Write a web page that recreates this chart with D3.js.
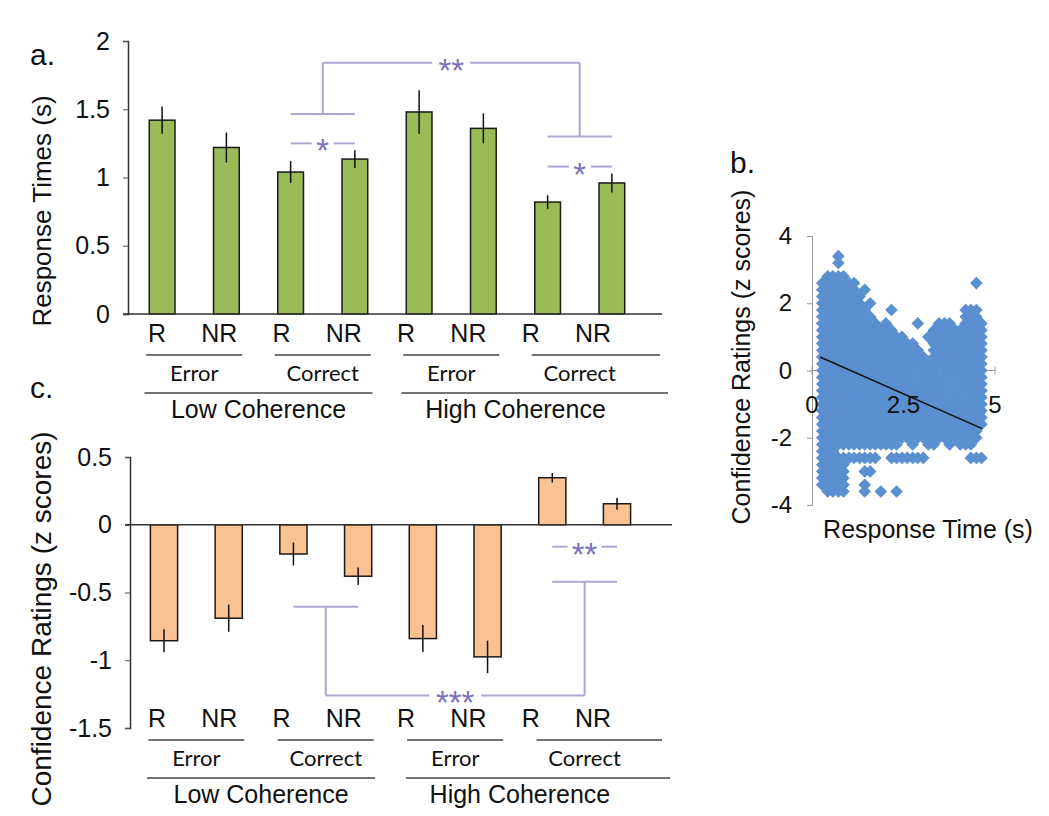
<!DOCTYPE html>
<html>
<head>
<meta charset="utf-8">
<script src="https://cdn.jsdelivr.net/npm/d3@7"></script>
<style>
  body { margin: 0; background: #fff; }
  text { font-family: "Liberation Sans", Arial, sans-serif; fill: #111; }
  .small { font-family: Lato, "Open Sans", sans-serif; }
</style>
</head>
<body>
<script>
// ---- data ----
const conditions = ["R", "NR", "R", "NR", "R", "NR", "R", "NR"];
const outcomeGroups = ["Error", "Correct", "Error", "Correct"];
const coherenceGroups = ["Low Coherence", "High Coherence"];

// a. response times (s)
const rtMeans = [1.42, 1.22, 1.04, 1.135, 1.48, 1.36, 0.82, 0.96];
const rtErrors = [0.10, 0.11, 0.08, 0.065, 0.16, 0.11, 0.05, 0.07];
const rtTicks = [0, 0.5, 1, 1.5, 2];

// c. confidence ratings (z scores)
const confMeans = [-0.856, -0.69, -0.216, -0.38, -0.84, -0.975, 0.347, 0.155];
const confErrors = [0.085, 0.10, 0.085, 0.065, 0.10, 0.12, 0.035, 0.045];
const confTicks = [-1.5, -1, -0.5, 0, 0.5];

// significance marks (pair index = which R/NR pair, y in data units)
const rtPairSig = [{ pair: 1, y: 1.25, mark: "*" }, { pair: 3, y: 1.08, mark: "*" }];
const rtBracket = { left: 1, right: 3, leftY: 1.465, rightY: 1.30, endY: 1.84, mark: "**" };
const confPairSig = [{ pair: 3, y: -0.162, mark: "**" }];
const confBracket = { left: 1, right: 3, leftY: -0.605, rightY: -0.42, endY: -1.26, mark: "***" };

// b. scatter: response time (s) vs confidence (z) read as a grid of the marker cloud
const scatterXTicks = [0, 2.5, 5];
const scatterYTicks = [-4, -2, 0, 2, 4];
const scatterColX = [0.28, 0.43, 0.57, 0.72, 0.86, 1.01, 1.15, 1.30, 1.44, 1.59, 1.73,
  1.88, 2.02, 2.17, 2.31, 2.46, 2.60, 2.75, 2.89, 3.04, 3.18, 3.33, 3.47, 3.62, 3.76,
  3.91, 4.05, 4.20, 4.34, 4.49, 4.63];
const scatterRowY = [3.4, 3.2, 3.0, 2.8, 2.6, 2.4, 2.2, 2.0, 1.8, 1.6, 1.4, 1.2, 1.0,
  0.8, 0.6, 0.4, 0.2, 0.0, -0.2, -0.4, -0.6, -0.8, -1.0, -1.2, -1.4, -1.6, -1.8, -2.0,
  -2.2, -2.4, -2.6, -2.8, -3.0, -3.2, -3.4, -3.6];
const scatterRows = [
  "...#...........................",
  "...#...........................",
  "...............................",
  ".####..........................",
  "#######......................#.",
  "#######.#......................",
  "########.......................",
  "########.#.....................",
  "#########....#.............###.",
  "##########.................###.",
  "###########.#.....#...###..####",
  "##############.......##########",
  "################....###########",
  "##################...##########",
  "###################..##########",
  "####################.##########",
  "###############################",
  "######################.########",
  "##################.############",
  "########################.#.####",
  "#########################.#####",
  "########################.#.####",
  "###############################",
  "###############################",
  "###############################",
  "###############################",
  "##############################.",
  "##############################.",
  "###############..#..##..#.###..",
  "###............................",
  "###########..#######........###",
  "#####..........................",
  "#####...##.....................",
  "#####..........................",
  "#####...#......................",
  ".####...#..#..#................"
];
const trendX = [0.22, 4.65];
const trendY = [0.40, -1.73];

// ---- figure ----
const svg = d3.select("body").append("svg")
  .attr("width", 1049)
  .attr("height", 816);

const green = "#9bbb59", orange = "#fac191";
const sigLine = "#aba7d5", sigStar = "#7d72bb";
const plain = d => String(d);

function starText(g, x, y, mark) {
  g.append("text")
    .attr("x", x)
    .attr("y", y + 19)
    .attr("text-anchor", "middle")
    .style("font-size", "33px")
    .style("fill", sigStar)
    .text(mark);
}

function hline(g, x1, x2, y) {
  g.append("line").attr("x1", x1).attr("x2", x2).attr("y1", y).attr("y2", y)
    .attr("stroke", sigLine).attr("stroke-width", 2);
}
function vline(g, x, y1, y2) {
  g.append("line").attr("x1", x).attr("x2", x).attr("y1", y1).attr("y2", y2)
    .attr("stroke", sigLine).attr("stroke-width", 2);
}

// dashed pair mark "— * —"
function pairMark(g, x1, x2, y, mark, gap) {
  const mid = (x1 + x2) / 2;
  hline(g, x1, mid - gap, y);
  hline(g, mid + gap, x2, y);
  starText(g, mid, y, mark);
}

// draws one bar panel (a or c)
function barPanel(opt) {
  const g = svg.append("g");
  const x = opt.x, y = opt.y;
  const bw = x.bandwidth();
  const cx = i => x(i) + bw / 2;
  const pairCenter = p => (cx(2 * p) + cx(2 * p + 1)) / 2;

  // y axis
  const yAxis = g.append("g")
    .attr("transform", `translate(${opt.axisX},0)`)
    .call(d3.axisLeft(y).tickValues(opt.ticks).tickSize(5).tickPadding(13)
      .tickFormat(plain));
  yAxis.select(".domain").attr("stroke", "#333").attr("stroke-width", 1.5);
  yAxis.selectAll(".tick line").attr("stroke", "#555");
  yAxis.selectAll(".tick text").style("font-size", "25px").attr("fill", "#111");

  // bars
  g.selectAll("rect.bar")
    .data(opt.means)
    .join("rect")
    .attr("class", "bar")
    .attr("x", (d, i) => x(i))
    .attr("y", d => y(Math.max(d, 0)))
    .attr("width", bw)
    .attr("height", d => Math.abs(y(d) - y(0)))
    .attr("fill", opt.fill)
    .attr("stroke", "#1a1a1a")
    .attr("stroke-width", 1.5);

  // error bars
  g.selectAll("line.err")
    .data(opt.means)
    .join("line")
    .attr("class", "err")
    .attr("x1", (d, i) => cx(i))
    .attr("x2", (d, i) => cx(i))
    .attr("y1", (d, i) => y(d + opt.errors[i]))
    .attr("y2", (d, i) => y(d - opt.errors[i]))
    .attr("stroke", "#111")
    .attr("stroke-width", 1.5);

  // zero line
  g.append("line")
    .attr("x1", opt.axisX - 5).attr("x2", opt.zeroEnd)
    .attr("y1", y(0)).attr("y2", y(0))
    .attr("stroke", "#333").attr("stroke-width", 1.5);

  // significance marks
  opt.pairSig.forEach(s => {
    pairMark(g, cx(2 * s.pair), cx(2 * s.pair + 1), y(s.y), s.mark, opt.pairGap);
  });
  const b = opt.bracket;
  const lx = pairCenter(b.left), rx = pairCenter(b.right);
  hline(g, cx(2 * b.left), cx(2 * b.left + 1), y(b.leftY));
  hline(g, cx(2 * b.right), cx(2 * b.right + 1), y(b.rightY));
  vline(g, lx, y(b.leftY), y(b.endY));
  vline(g, rx, y(b.rightY), y(b.endY));
  pairMark(g, lx, rx, y(b.endY), b.mark, opt.bracketGap);

  // category labels
  const lab = d3.scalePoint().domain(d3.range(8)).range([157, 593]);
  g.selectAll("text.cond")
    .data(conditions)
    .join("text")
    .attr("class", "cond")
    .attr("x", (d, i) => lab(i))
    .attr("y", opt.labelY)
    .attr("text-anchor", "middle")
    .style("font-size", "25px")
    .text(d => d);

  outcomeGroups.forEach((name, p) => {
    const c = pairCenter(p);
    const right = p === 3 ? opt.lastRight : c + 48;
    g.append("line").attr("x1", c - 48).attr("x2", right)
      .attr("y1", opt.labelY + 13).attr("y2", opt.labelY + 13)
      .attr("stroke", "#444").attr("stroke-width", 1.5);
    g.append("text").attr("class", "small")
      .attr("x", c).attr("y", opt.labelY + 39)
      .attr("text-anchor", "middle")
      .style("font-size", "22px")
      .text(name);
  });

  coherenceGroups.forEach((name, k) => {
    const c = (cx(4 * k) + cx(4 * k + 3)) / 2;
    const right = k === 1 ? opt.lastRight + 8 : c + 114;
    g.append("line").attr("x1", c - 114).attr("x2", right)
      .attr("y1", opt.labelY + 51).attr("y2", opt.labelY + 51)
      .attr("stroke", "#444").attr("stroke-width", 1.5);
    g.append("text")
      .attr("x", c).attr("y", opt.labelY + 76)
      .attr("text-anchor", "middle")
      .style("font-size", "25px")
      .text(name);
  });

  // titles
  g.append("text")
    .attr("transform", `translate(51,${opt.titleY}) rotate(-90)`)
    .attr("text-anchor", "middle")
    .style("font-size", opt.titleSize)
    .text(opt.title);
  g.append("text")
    .attr("x", 30).attr("y", opt.letterY)
    .style("font-size", "30px")
    .text(opt.letter);
}

barPanel({
  x: d3.scaleBand().domain(d3.range(8)).range([130, 644]).paddingInner(0.6).paddingOuter(0.3),
  y: d3.scaleLinear().domain([0, 2]).range([314, 41]),
  axisX: 128, zeroEnd: 662, ticks: rtTicks,
  means: rtMeans, errors: rtErrors, fill: green,
  pairSig: rtPairSig, bracket: rtBracket, pairGap: 11, bracketGap: 19,
  labelY: 342, lastRight: 660,
  title: "Response Times (s)", titleY: 211, titleSize: "26px",
  letter: "a.", letterY: 65
});

barPanel({
  x: d3.scaleBand().domain(d3.range(8)).range([131, 650]).paddingInner(0.58).paddingOuter(0.3),
  y: d3.scaleLinear().domain([-1.5, 0.5]).range([728, 457]),
  axisX: 130, zeroEnd: 672, ticks: confTicks,
  means: confMeans, errors: confErrors, fill: orange,
  pairSig: confPairSig, bracket: confBracket, pairGap: 17, bracketGap: 26,
  labelY: 727, lastRight: 662,
  title: "Confidence Ratings (z scores)", titleY: 619, titleSize: "28px",
  letter: "c.", letterY: 398
});

// ---- panel b: scatter ----
const xB = d3.scaleLinear().domain([0, 5]).range([812, 995]);
const yB = d3.scaleLinear().domain([-4, 4]).range([505, 236]);
const gb = svg.append("g");

const yAxisB = gb.append("g")
  .attr("transform", `translate(${xB(0)},0)`)
  .call(d3.axisLeft(yB).tickValues(scatterYTicks).tickSize(5).tickPadding(15)
    .tickFormat(plain));
yAxisB.select(".domain").attr("stroke", "#999");
yAxisB.selectAll(".tick line").attr("stroke", "#999");
yAxisB.selectAll(".tick text").style("font-size", "24px").attr("fill", "#111");

gb.append("line")
  .attr("x1", xB(0)).attr("x2", xB(5))
  .attr("y1", yB(0)).attr("y2", yB(0))
  .attr("stroke", "#999");
gb.selectAll("line.xt")
  .data(scatterXTicks)
  .join("line")
  .attr("class", "xt")
  .attr("x1", d => xB(d)).attr("x2", d => xB(d))
  .attr("y1", yB(0) - 4).attr("y2", yB(0) + 4)
  .attr("stroke", "#999");

const points = [];
scatterRows.forEach((row, r) => {
  row.split("").forEach((ch, c) => {
    if (ch === "#") points.push({ x: scatterColX[c], y: scatterRowY[r] });
  });
});

gb.selectAll("path.pt")
  .data(points)
  .join("path")
  .attr("class", "pt")
  .attr("d", d3.symbol(d3.symbolSquare, 80))
  .attr("transform", d => `translate(${xB(d.x)},${yB(d.y)}) rotate(45)`)
  .attr("fill", "#5a8fd0");

gb.selectAll("text.xl")
  .data(scatterXTicks)
  .join("text")
  .attr("class", "xl")
  .attr("x", d => xB(d))
  .attr("y", 413)
  .attr("text-anchor", "middle")
  .style("font-size", "24px")
  .text(d => d);

gb.append("line")
  .attr("x1", xB(trendX[0])).attr("y1", yB(trendY[0]))
  .attr("x2", xB(trendX[1])).attr("y2", yB(trendY[1]))
  .attr("stroke", "#111").attr("stroke-width", 1.5);

gb.append("text")
  .attr("transform", `translate(750,357) rotate(-90)`)
  .attr("text-anchor", "middle")
  .style("font-size", "25px")
  .text("Confidence Ratings (z scores)");
gb.append("text")
  .attr("x", 928).attr("y", 538)
  .attr("text-anchor", "middle")
  .style("font-size", "25px")
  .text("Response Time (s)");
gb.append("text")
  .attr("x", 730).attr("y", 173)
  .style("font-size", "30px")
  .text("b.");
</script>
</body>
</html>
